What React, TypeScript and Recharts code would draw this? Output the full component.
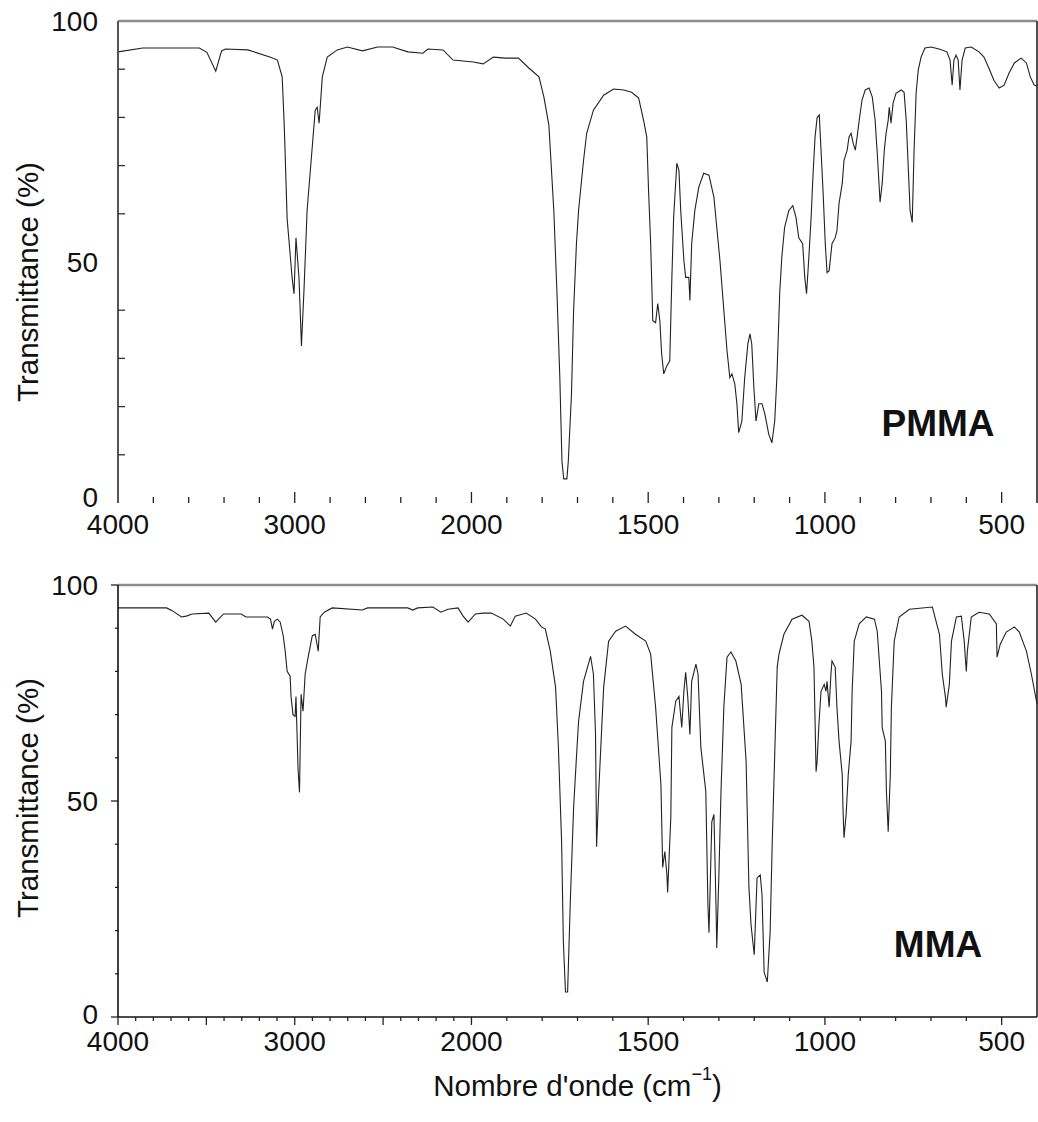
import React from 'react';
import { LineChart, Line, XAxis, YAxis, ReferenceLine, ReferenceDot } from 'recharts';

const FONT = '"Liberation Sans", Arial, Helvetica, sans-serif';

// PMMA spectrum: wavenumber (cm-1) and transmittance (%)
const pmmaWn = [
  4000, 3860, 3540, 3497, 3447, 3414, 3392, 3265, 3137, 3098, 3071, 3059, 3043, 3015, 3004, 2993, 2976, 2962,
  2947, 2930, 2913, 2901, 2884, 2873, 2862, 2844, 2816, 2759, 2702, 2617, 2531, 2446, 2360, 2275, 2246, 2161,
  2104, 1995, 1967, 1938, 1904, 1867, 1837, 1809, 1795, 1781, 1767, 1758, 1750, 1744, 1739, 1730, 1726, 1717,
  1711, 1703, 1697, 1683, 1674, 1655, 1626, 1598, 1569, 1547, 1527, 1513, 1504, 1499, 1493, 1487, 1479, 1473,
  1467, 1462, 1456, 1447, 1439, 1433, 1428, 1419, 1413, 1408, 1399, 1394, 1385, 1382, 1377, 1368, 1357, 1343,
  1328, 1314, 1306, 1297, 1286, 1277, 1269, 1263, 1255, 1249, 1244, 1235, 1227, 1218, 1212, 1207, 1201, 1195,
  1187, 1178, 1170, 1159, 1150, 1142, 1136, 1128, 1122, 1114, 1102, 1091, 1082, 1074, 1063, 1057, 1052, 1046,
  1039, 1034, 1028, 1022, 1016, 1011, 1005, 999, 994, 988, 980, 971, 966, 960, 951, 946, 937, 932, 926, 920,
  914, 909, 903, 895, 886, 875, 866, 858, 852, 847, 844, 838, 832, 827, 821, 818, 813, 807, 799, 784, 776, 770,
  765, 759, 753, 748, 742, 736, 728, 717, 700, 677, 655, 646, 640, 635, 629, 623, 618, 612, 603, 586, 564, 550,
  536, 522, 507, 493, 479, 464, 445, 430, 419, 408, 400,
];
const pmmaT = [
  93.6, 94.4, 94.4, 93.5, 89.6, 93.8, 94.2, 94.0, 92.5, 91.9, 88.4, 78, 59, 46.8, 43.4, 55, 46.8, 32.6,
  44.7, 60.7, 68.4, 73.8, 81.5, 82.1, 78.8, 88.4, 92.5, 94.0, 94.6, 93.8, 94.6, 94.6, 93.6, 93.3, 94.2, 94.0,
  91.9, 91.5, 91.1, 92.5, 92.3, 92.3, 90.2, 88.4, 84.2, 78.4, 60.7, 43.4, 26, 8.7, 5, 5, 8.7, 22.7,
  40, 53.8, 60.7, 71, 76.7, 81.5, 84.6, 85.9, 85.7, 85.2, 84, 79.4, 75.9, 64.9, 53.8, 37.8, 37.4, 41.4,
  37.8, 31, 26.8, 28.5, 29.5, 46.8, 59.3, 70.5, 69, 60.7, 50.3, 46.8, 46.8, 42, 53.8, 60.7, 65.5, 68.4,
  68, 63.4, 57.2, 50.3, 40, 31.6, 26, 26.8, 24.7, 20.6, 14.6, 17, 26, 33, 35.1, 33, 23.9, 17,
  20.6, 20.6, 18.5, 14.3, 12.5, 17, 26, 43.4, 51, 57.2, 60.7, 61.7, 59.3, 55, 53.8, 46.8, 43.4, 50.3,
  59.3, 67.6, 75.9, 80, 80.5, 73.2, 64.2, 53.8, 47.8, 48.2, 53.8, 55, 56.5, 62.2, 66.3, 71.1, 73.2, 75.9, 76.7, 74.6,
  73.2, 75.9, 79.4, 83.6, 85.7, 86.1, 84.2, 79.4, 72.6, 66.3, 62.4, 66.3, 73.2, 76.7, 79.4, 82.1, 78.8, 83, 85, 85.7, 85.2, 79.4,
  71, 60.7, 58.2, 72.6, 85, 89.8, 92.5, 94.4, 94.6, 94.2, 93.6, 91.9, 86.7, 91.9, 92.9, 91.9, 85.7, 91.9, 94.4, 94.6, 93.6, 92.5,
  90.2, 87.7, 86.1, 86.7, 89.2, 91.3, 92.3, 91.3, 88.4, 86.7, 86.5,
];

// MMA spectrum
const mmaWn = [
  4000, 3725, 3691, 3641, 3614, 3580, 3486, 3447, 3431, 3403, 3303, 3276, 3154, 3137, 3126, 3115, 3098, 3082,
  3065, 3054, 3043, 3026, 3021, 3010, 2998, 2993, 2981, 2973, 2964, 2953, 2941, 2924, 2901, 2884, 2867, 2856,
  2833, 2788, 2617, 2588, 2361, 2332, 2304, 2218, 2173, 2133, 2076, 2047, 2019, 1989, 1967, 1944, 1910, 1890,
  1876, 1845, 1819, 1802, 1791, 1777, 1762, 1754, 1745, 1740, 1734, 1728, 1720, 1711, 1703, 1697, 1683, 1663,
  1655, 1649, 1646, 1640, 1626, 1612, 1592, 1564, 1536, 1507, 1493, 1479, 1464, 1459, 1453, 1447, 1445, 1436,
  1433, 1422, 1413, 1405, 1399, 1394, 1388, 1382, 1377, 1365, 1359, 1351, 1337, 1331, 1328, 1320, 1314, 1308,
  1306, 1300, 1294, 1286, 1277, 1266, 1252, 1237, 1223, 1215, 1209, 1200, 1192, 1183, 1178, 1172, 1163, 1155,
  1149, 1141, 1135, 1130, 1116, 1093, 1065, 1045, 1037, 1031, 1025, 1022, 1017, 1011, 1002, 997, 994, 988,
  983, 980, 971, 966, 960, 951, 949, 946, 940, 934, 926, 923, 917, 903, 883, 860, 852, 840, 838, 829, 826,
  821, 815, 812, 804, 790, 761, 696, 676, 668, 659, 657, 648, 642, 628, 614, 606, 600, 597, 586, 564, 535,
  515, 513, 504, 487, 464, 450, 430, 416, 400,
];
const mmaT = [
  94.7, 94.7, 94.0, 92.6, 92.8, 93.3, 93.5, 91.4, 92.1, 93.3, 93.3, 92.6, 92.6, 92.1, 89.8, 91.6, 92.1, 91.4,
  88.2, 84.7, 80, 78.9, 74.2, 70, 69.6, 74.2, 57.3, 52, 74.7, 70.8, 79.4, 83.3, 88.2, 88.6, 84.7, 92.6,
  93.7, 94.7, 94.2, 94.7, 94.7, 94.2, 94.7, 94.9, 93.7, 94.4, 94.7, 92.8, 91.4, 93.3, 93.5, 93.5, 92.1, 90.5,
  92.8, 93.5, 92.1, 90.3, 89.8, 84.7, 76.3, 62.4, 40.6, 17.4, 5.8, 5.8, 27.6, 48.5, 60.1, 68.4, 77.7, 83.5,
  79.4, 65.4, 39.4, 52.2, 76.3, 87, 89.3, 90.5, 88.6, 87, 84, 71.7, 53.8, 34.6, 38.3, 32.9, 28.8, 46.2,
  67, 73.1, 74.2, 67, 75.4, 79.8, 74, 65.4, 77.7, 81.7, 79.4, 62.4, 52.2, 26, 19.5, 45.2, 46.9, 25.3,
  16, 32.9, 52.2, 71.7, 83.3, 84.5, 82.4, 77, 59.2, 30, 21.3, 14.4, 32.2, 32.9, 28.3, 10.4, 8.1, 19.7,
  40.6, 63.8, 81, 84, 88.6, 92.1, 93, 91.6, 87, 81, 56.8, 59.2, 67.7, 75.4, 77, 75.4, 77.7, 71.7,
  79.4, 82.4, 81, 71.7, 63.8, 56.1, 48.5, 41.5, 46.9, 56.1, 63.8, 75.4, 87, 91, 92.6, 92.1, 89.3, 75.4, 67, 63.8, 52.2,
  42.9, 56.1, 71.7, 87, 92.6, 94.4, 94.9, 88.6, 79.4, 74, 71.7, 77, 87, 92.6, 92.8, 87, 80, 84.7, 92.6, 93.7, 93.3,
  91, 83.3, 86.3, 89.1, 90.3, 89.1, 84.7, 79.4, 72.5,
];

// axis ticks (wavenumbers)
const topTickWn = [
  4000, 3800, 3600, 3400, 3200, 3000, 2800, 2600, 2400, 2200, 2000,
  1900, 1800, 1700, 1600, 1500, 1400, 1300, 1200, 1100, 1000, 900, 800, 700, 600, 500,
];
const bottomTickWn = [
  4000, 3900, 3800, 3700, 3600, 3500, 3400, 3300, 3200, 3100, 3000, 2900, 2800, 2700, 2600, 2500,
  2400, 2300, 2200, 2100, 2000, 1900, 1800, 1700, 1600, 1500, 1400, 1300, 1200, 1100, 1000, 900,
  800, 700, 600, 500,
];
const labelWn = [4000, 3000, 2000, 1500, 1000, 500];
const bottomMajorWn = [4000, 3500, 3000, 2500, 2000, 1500, 1000, 500];
const yTicks = [0, 10, 20, 30, 40, 50, 60, 70, 80, 90, 100];
const yLabelled = [0, 50, 100];

// the scale changes by 2x at 2000 cm-1
const toPos = (w: number) => (w >= 2000 ? (4000 - w) / 2 : 1000 + (2000 - w));
const toWn = (p: number) => (p <= 1000 ? 4000 - 2 * p : 3000 - p);

const toRows = (wn: number[], t: number[]) => wn.map((w, i) => ({ pos: toPos(w), wn: w, t: t[i] }));
const pmmaRows = toRows(pmmaWn, pmmaT);
const mmaRows = toRows(mmaWn, mmaT);

const XTick = (props: any) => {
  const { x, y, payload, variant } = props;
  const wn = Math.round(toWn(payload.value));
  const top = variant === 'top';
  const major = top ? labelWn.includes(wn) : bottomMajorWn.includes(wn);
  const len = top ? (major ? 11 : 6) : major ? 8 : 4;
  const y2 = top ? y - len : y + len;
  return (
    <g>
      {!(top && wn === 4000) && <line x1={x} y1={y} x2={x} y2={y2} stroke="#222" strokeWidth={1.3} />}
      {labelWn.includes(wn) && (
        <text x={x} y={y + (top ? 21 : 24)} textAnchor="middle" dominantBaseline="central"
          fontFamily={FONT} fontSize={28} fill="#111">{wn}</text>
      )}
    </g>
  );
};

const YTick = (props: any) => {
  const { x, y, payload, variant } = props;
  const v = payload.value;
  const top = variant === 'top';
  const labelled = yLabelled.includes(v);
  let tick = null;
  if (top) {
    if (!labelled) tick = <line x1={x} y1={y} x2={x + 7} y2={y} stroke="#333" strokeWidth={1.3} />;
  } else {
    tick = <line x1={x} y1={y} x2={x - (labelled ? 7 : 3)} y2={y} stroke="#111" strokeWidth={1.2} />;
  }
  const dy = v === 0 ? (top ? -6 : -3) : 0;
  return (
    <g>
      {tick}
      {labelled && (
        <text x={x - 20} y={y + dy} textAnchor="end" dominantBaseline="central"
          fontFamily={FONT} fontSize={28} fill="#111">{v}</text>
      )}
    </g>
  );
};

const yTitle = (shift: number) => (props: any) => {
  const vb = props.viewBox || { x: 0, y: 0, width: 118, height: 480 };
  const cx = vb.x + 27;
  const cy = vb.y + vb.height / 2 + shift;
  return (
    <text x={cx} y={cy} transform={`rotate(-90 ${cx} ${cy})`} textAnchor="middle" dominantBaseline="central"
      fontFamily={FONT} fontSize={29.5} fill="#111">Transmittance (%)</text>
  );
};

const xTitle = (props: any) => {
  const vb = props.viewBox || { x: 118, y: 0, width: 919, height: 105 };
  const cx = vb.x + vb.width / 2;
  const cy = vb.y + 68;
  return (
    <text x={cx} y={cy} textAnchor="middle" dominantBaseline="central" fontFamily={FONT} fontSize={29.5} fill="#111">
      Nombre d'onde (cm<tspan dy={-11} fontSize={18}>−1</tspan><tspan dy={11}>)</tspan>
    </text>
  );
};

const nameLabel = (name: string) => (props: any) => {
  const vb = props.viewBox || { x: 0, y: 0 };
  return (
    <text x={vb.x} y={vb.y} textAnchor="middle" fontFamily={FONT} fontSize={37} fontWeight="bold" fill="#111">{name}</text>
  );
};

type PanelProps = {
  rows: { pos: number; wn: number; t: number }[];
  name: string;
  variant: 'top' | 'bottom';
  height: number;
  marginTop: number;
  xAxisHeight: number;
  yShift: number;
};

const Panel = ({ rows, name, variant, height, marginTop, xAxisHeight, yShift }: PanelProps) => {
  const top = variant === 'top';
  const ticks = (top ? topTickWn : bottomTickWn).map(toPos);
  return (
    <LineChart width={1038} height={height} data={rows} margin={{ top: marginTop, right: 1, bottom: 0, left: 0 }}>
      <XAxis
        dataKey="pos"
        type="number"
        domain={[0, 2600]}
        ticks={ticks}
        interval={0}
        tickSize={0}
        tickMargin={0}
        tickLine={false}
        axisLine={top ? false : { stroke: '#111', strokeWidth: 1.3 }}
        height={xAxisHeight}
        tick={(p: any) => <XTick {...p} variant={variant} />}
        label={top ? undefined : xTitle}
      />
      <YAxis
        type="number"
        domain={[0, 100]}
        ticks={yTicks}
        interval={0}
        width={118}
        tickSize={0}
        tickMargin={0}
        tickLine={false}
        axisLine={top ? { stroke: '#555', strokeWidth: 2 } : { stroke: '#111', strokeWidth: 1.6 }}
        tick={(p: any) => <YTick {...p} variant={variant} />}
        label={yTitle(yShift)}
      />
      <ReferenceLine y={100} stroke="#8c8c8c" strokeWidth={2.5} />
      <ReferenceLine x={2600} stroke="#222" strokeWidth={1.6} />
      <ReferenceDot x={toPos(680)} y={14} r={0} fill="none" stroke="none" label={nameLabel(name)} />
      <Line
        type="linear"
        dataKey="t"
        stroke="#222"
        strokeWidth={1.1}
        dot={false}
        activeDot={false}
        isAnimationActive={false}
      />
    </LineChart>
  );
};

export default function App() {
  return (
    <div style={{ position: 'absolute', left: 0, top: 0, width: 1038, height: 1122, background: '#fff' }}>
      <div style={{ position: 'absolute', left: 0, top: 0 }}>
        <Panel rows={pmmaRows} name="PMMA" variant="top" height={560} marginTop={21} xAxisHeight={57} yShift={20} />
      </div>
      <div style={{ position: 'absolute', left: 0, top: 560 }}>
        <Panel rows={mmaRows} name="MMA" variant="bottom" height={562} marginTop={25} xAxisHeight={105} yShift={-3} />
      </div>
    </div>
  );
}
